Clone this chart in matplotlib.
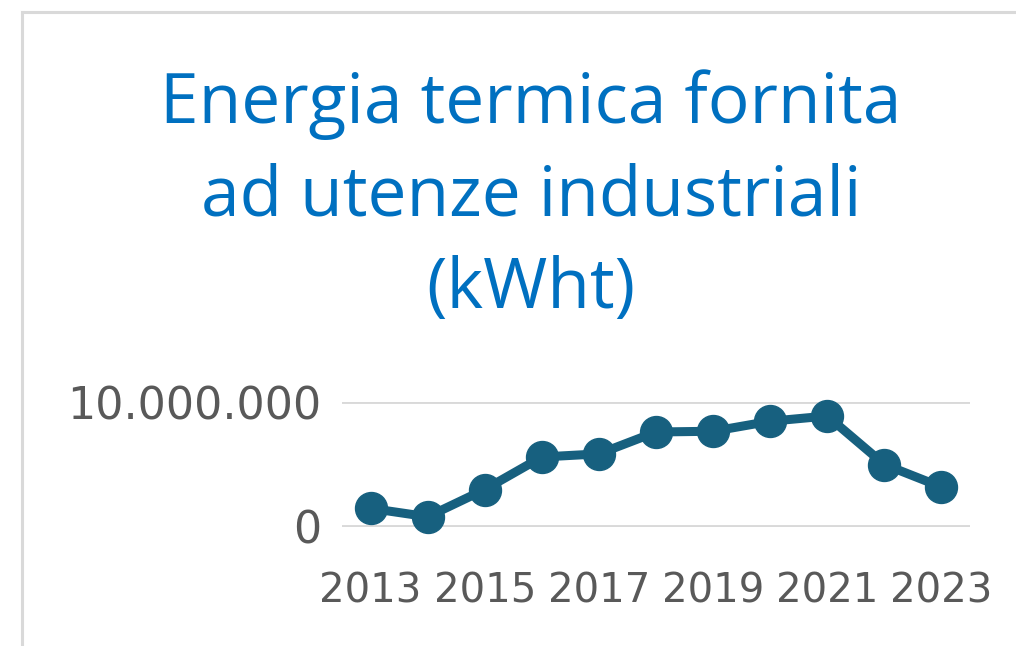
import matplotlib

matplotlib.use("Agg")
import matplotlib.pyplot as plt
from matplotlib.lines import Line2D
from matplotlib.ticker import FuncFormatter

# values (kWht)
years = [2013, 2014, 2015, 2016, 2017, 2018, 2019, 2020, 2021, 2022, 2023]
energy = [1_490_000, 820_000, 3_000_000, 5_600_000, 5_850_000, 7_600_000,
          7_660_000, 8_460_000, 8_880_000, 5_000_000, 3_200_000]
year_ticks = [2013, 2015, 2017, 2019, 2021, 2023]
y_ticks = [0, 10_000_000]
title_lines = ["Energia termica fornita", "ad utenze industriali", "(kWht)"]

TITLE_BLUE = "#0070C0"
LINE_BLUE = "#17607F"
GREY_TXT = "#595959"
GRID = "#D9D9D9"

fig = plt.figure(figsize=(10.16, 6.46), dpi=100)
fig.patch.set_facecolor("white")

# light frame of the chart area (top and left edges visible)
fig.add_artist(Line2D([22 / 1016, 22 / 1016], [0, 1 - 12 / 646],
                      transform=fig.transFigure, color=GRID, lw=2.2))
fig.add_artist(Line2D([22 / 1016, 1], [1 - 12 / 646, 1 - 12 / 646],
                      transform=fig.transFigure, color=GRID, lw=2.2))

# title, one line at a time
for line, base in zip(title_lines, [123, 216, 308]):
    fig.text(531 / 1016, 1 - base / 646, line, ha="center", va="baseline",
             color=TITLE_BLUE, fontsize=50, family="Open Sans")

ax = fig.add_axes([342 / 1016, 1 - 527 / 646, 628 / 1016, 125 / 646])
ax.plot(years, energy, color=LINE_BLUE, lw=6.5, marker="o", markersize=23,
        clip_on=False, solid_capstyle="round")

ax.set_xlim(2012.5, 2023.5)
ax.set_ylim(0, 10_000_000)
ax.set_xticks(year_ticks)
ax.set_yticks(y_ticks)
ax.yaxis.set_major_formatter(FuncFormatter(lambda v, _: f"{int(v):,}".replace(",", ".")))
ax.grid(axis="y", color=GRID, lw=2.8)
ax.set_axisbelow(True)
for s in ax.spines.values():
    s.set_visible(False)
ax.tick_params(axis="both", length=0, labelsize=29, labelcolor=GREY_TXT)
ax.tick_params(axis="y", labelsize=32, pad=15)
ax.tick_params(axis="x", pad=32)

fig.savefig("out.png", dpi=100)
